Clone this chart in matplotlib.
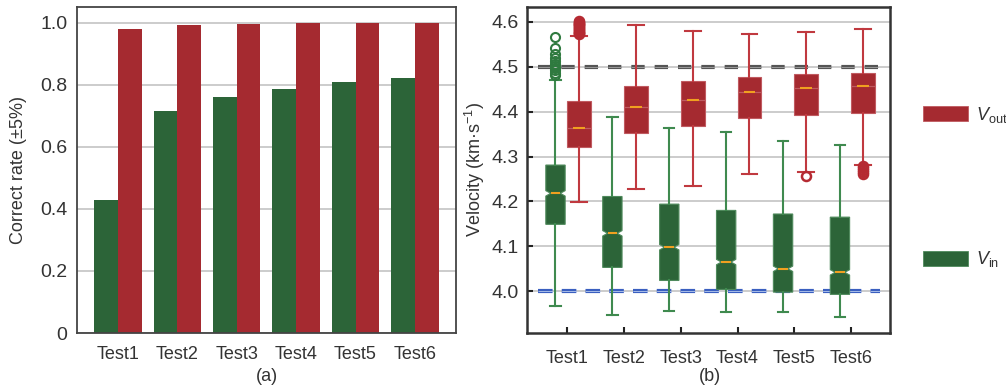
import matplotlib
matplotlib.use("Agg")
import matplotlib.pyplot as plt
from matplotlib.patches import Patch
import numpy as np

plt.rcParams['font.family'] = ['Liberation Sans', 'DejaVu Sans']
plt.rcParams['font.size'] = 13
plt.rcParams['mathtext.fontset'] = 'custom'
plt.rcParams['mathtext.rm'] = 'Liberation Sans'
plt.rcParams['mathtext.it'] = 'Liberation Sans:italic'

GREEN = '#2c6438'
RED = '#a52a30'
AXC = '#333333'

tests = ['Test1', 'Test2', 'Test3', 'Test4', 'Test5', 'Test6']

# (a) correct rates
rate_in = [0.428, 0.715, 0.761, 0.785, 0.808, 0.821]
rate_out = [0.979, 0.992, 0.996, 1.0, 1.0, 1.0]

# (b) velocity box statistics, km/s
vin_q1 = [4.149, 4.053, 4.024, 4.004, 3.998, 3.993]
vin_med = [4.218, 4.129, 4.098, 4.065, 4.050, 4.042]
vin_q3 = [4.281, 4.211, 4.194, 4.180, 4.172, 4.165]
vin_lo = [3.967, 3.947, 3.957, 3.953, 3.953, 3.942]
vin_hi = [4.470, 4.387, 4.363, 4.354, 4.334, 4.326]
vin_fliers = [[4.482, 4.487, 4.492, 4.497, 4.502, 4.507, 4.512, 4.520, 4.528, 4.542, 4.566],
              [], [], [], [], []]

vout_q1 = [4.321, 4.353, 4.368, 4.386, 4.393, 4.398]
vout_med = [4.364, 4.410, 4.425, 4.444, 4.452, 4.458]
vout_q3 = [4.423, 4.456, 4.469, 4.478, 4.484, 4.487]
vout_lo = [4.199, 4.228, 4.234, 4.261, 4.266, 4.282]
vout_hi = [4.568, 4.593, 4.580, 4.573, 4.578, 4.583]
vout_fliers = [[4.572, 4.574, 4.576, 4.578, 4.580, 4.582, 4.584, 4.586, 4.588, 4.590,
                4.592, 4.594, 4.596, 4.598, 4.600, 4.602],
               [], [], [], [4.256], [4.262, 4.266, 4.270, 4.274, 4.278]]

v_high = 4.5
v_low = 4.0


def make_stats(q1, med, q3, lo, hi, fliers, notch):
    out = []
    for i in range(len(med)):
        out.append(dict(med=med[i], q1=q1[i], q3=q3[i], whislo=lo[i], whishi=hi[i],
                        fliers=fliers[i], cilo=med[i] - notch, cihi=med[i] + notch))
    return out


fig = plt.figure(figsize=(10.06, 3.86), dpi=100)
ax1 = fig.add_axes([0.0765, 0.1373, 0.3767, 0.8446])
ax2 = fig.add_axes([0.5239, 0.1373, 0.3608, 0.8446])

# ---- (a) grouped bars ----
x = np.arange(len(tests))
w = 0.4
ax1.bar(x - w / 2, rate_in, w, color=GREEN, zorder=2)
ax1.bar(x + w / 2, rate_out, w, color=RED, zorder=2)
ax1.set_xlim(-0.69, 5.69)
ax1.set_ylim(0, 1.05)
ax1.set_yticks([0, 0.2, 0.4, 0.6, 0.8, 1.0])
ax1.set_yticklabels(['0', '0.2', '0.4', '0.6', '0.8', '1.0'])
ax1.set_xticks(x)
ax1.set_xticklabels(tests)
ax1.tick_params(length=0, colors=AXC)
ax1.tick_params(axis='x', pad=9, labelsize=13)
ax1.tick_params(axis='y', pad=7, labelsize=14)
ax1.grid(axis='y', color='#c4c4c4', lw=1.2, zorder=0)
ax1.set_axisbelow(True)
for s in ax1.spines.values():
    s.set_color('#444444')
    s.set_linewidth(1.3)
ax1.set_ylabel('Correct rate (±5%)', color=AXC, fontsize=13)
ax1.yaxis.set_label_coords(-0.132, 0.5)

# ---- (b) box plots ----
st_in = make_stats(vin_q1, vin_med, vin_q3, vin_lo, vin_hi, vin_fliers, 0.006)
st_out = make_stats(vout_q1, vout_med, vout_q3, vout_lo, vout_hi, vout_fliers, 0.0)

ax2.grid(axis='y', color='#c4c4c4', lw=1.2, zorder=0)
ax2.set_axisbelow(True)

ax2.bxp(st_in, positions=x - 0.2, widths=0.34, capwidths=0.18, shownotches=True,
        patch_artist=True, manage_ticks=False,
        boxprops=dict(facecolor=GREEN, edgecolor='#4f8a5c', lw=0.8),
        whiskerprops=dict(color='#3f8a4f', lw=1.5),
        capprops=dict(color='#3f8a4f', lw=1.5),
        medianprops=dict(color='#f0a020', lw=1.5),
        flierprops=dict(marker='o', markerfacecolor='none', markeredgecolor='#2f7a3f',
                        markersize=6.5, markeredgewidth=1.5),
        zorder=3)
# zero-height notch keeps the median line short on the red boxes
ax2.bxp(st_out, positions=x + 0.21, widths=0.42, capwidths=0.28, shownotches=True,
        patch_artist=True, manage_ticks=False,
        boxprops=dict(facecolor=RED, edgecolor='#c05a60', lw=0.8),
        whiskerprops=dict(color='#c0393f', lw=1.5),
        capprops=dict(color='#c0393f', lw=1.5),
        medianprops=dict(color='#f0a020', lw=1.5),
        flierprops=dict(marker='o', markerfacecolor='none', markeredgecolor='#b52a32',
                        markersize=6.5, markeredgewidth=1.8),
        zorder=3)

ax2.hlines(v_high, -0.5, 5.5, colors='#555555', lw=3, linestyles=(0, (3.2, 2.4)), zorder=2.5)
ax2.hlines(v_high, -0.5, 5.5, colors='#9a9a9a', lw=0.7, linestyles=(0, (13.7, 10.3)), zorder=2.6)
ax2.hlines(v_low, -0.5, 5.5, colors='#3a5fc0', lw=3, linestyles=(0, (3.5, 2.2)), zorder=2.5)
ax2.hlines(v_low, -0.5, 5.5, colors='#a8bce8', lw=0.7, linestyles=(0, (15, 9.4)), zorder=2.6)

ax2.set_xlim(-0.7, 5.68)
ax2.set_ylim(3.907, 4.633)
ax2.set_yticks([4.0, 4.1, 4.2, 4.3, 4.4, 4.5, 4.6])
ax2.set_xticks(x)
ax2.set_xticklabels(tests)
ax2.tick_params(direction='in', length=4, width=1.5, colors='#222222', labelcolor=AXC)
ax2.tick_params(axis='x', pad=12, labelsize=13)
ax2.tick_params(axis='y', pad=6, labelsize=14)
for s in ax2.spines.values():
    s.set_color('#333333')
    s.set_linewidth(1.8)
ax2.set_ylabel('Velocity (km·s$^{-1}$)', color=AXC, fontsize=13)
ax2.yaxis.set_label_coords(-0.110, 0.5)

leg_kw = dict(frameon=False, loc='center left', borderpad=0, borderaxespad=0,
              handlelength=2.5, handleheight=0.9, handletextpad=0.45, fontsize=13,
              labelcolor=AXC)
leg1 = ax2.legend([Patch(facecolor=RED, edgecolor='#c05a60', lw=0.6)], ['$V_{\\rm out}$'],
                  bbox_to_anchor=(1.091, 0.669), **leg_kw)
ax2.add_artist(leg1)
ax2.legend([Patch(facecolor=GREEN, edgecolor='#4f8a5c', lw=0.6)], ['$V_{\\rm in}$'],
           bbox_to_anchor=(1.091, 0.2255), **leg_kw)

fig.text(0.265, 0.025, '(a)', ha='center', va='center', color=AXC, fontsize=13)
fig.text(0.706, 0.025, '(b)', ha='center', va='center', color=AXC, fontsize=13)

fig.savefig('out.png', dpi=100)
